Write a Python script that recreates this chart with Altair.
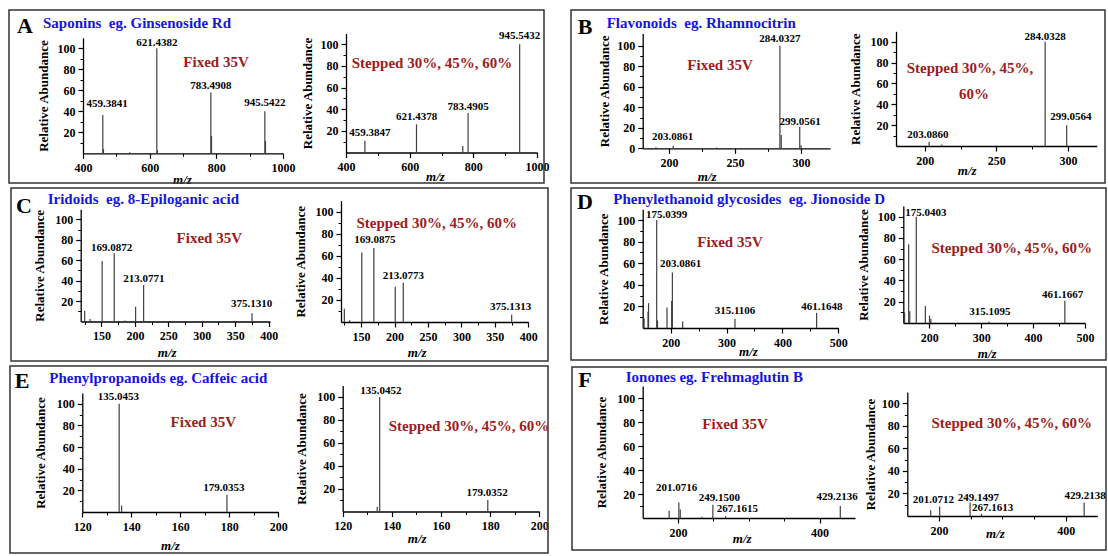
import altair as alt
import pandas as pd

W, H = 1108, 556
FONT = "Liberation Serif"
BLUE = "#1515e0"
RED = "#9c1c22"
PEAK = "#404040"

# ---------------- data (m/z, relative abundance) ----------------
# A  Saponins eg. Ginsenoside Rd
A_fixed_mz = [459.38, 461.4, 540.0, 621.44, 623.4, 783.49, 785.5, 945.54, 947.5]
A_fixed_int = [36.5, 4, 1, 100, 3, 58, 16.5, 40, 11.7]
A_fixed_lab = ["459.3841", "621.4382", "783.4908", "945.5422"]
A_fixed_lab_mz = [472, 621.4, 783.5, 945.5]
A_fixed_lab_int = [47, 105, 64, 48]

A_step_mz = [459.38, 621.44, 767.0, 783.49, 945.54]
A_step_int = [10.8, 26, 6, 36.4, 100]
A_step_lab = ["459.3847", "621.4378", "783.4905", "945.5432"]
A_step_lab_mz = [475, 622, 783.5, 945.5]
A_step_lab_int = [18, 32.8, 42, 107.5]

# B  Flavonoids eg. Rhamnocitrin
B_fixed_mz = [190.0, 203.09, 236.0, 284.03, 285.03, 299.06, 300.06]
B_fixed_int = [1, 2.5, 0.8, 100, 13, 21, 3]
B_fixed_lab = ["284.0327", "299.0561", "203.0861"]
B_fixed_lab_mz = [284.0, 299.4, 202.7]
B_fixed_lab_int = [106.5, 26, 11.3]

B_step_mz = [203.09, 212.0, 284.03, 299.06]
B_step_int = [4, 1.5, 100, 20]
B_step_lab = ["284.0328", "299.0564", "203.0860"]
B_step_lab_mz = [284.0, 301.9, 202.3]
B_step_lab_int = [104.8, 27.5, 10.5]

# C  Iridoids eg. 8-Epiloganic acid
C_fixed_mz = [125.0, 133.0, 151.07, 169.09, 185.0, 201.1, 213.08, 375.13]
C_fixed_int = [10.5, 2.5, 59.3, 66.8, 1, 14.5, 35.8, 8]
C_fixed_lab = ["169.0872", "213.0771", "375.1310"]
C_fixed_lab_mz = [165.3, 213.6, 374.6]
C_fixed_lab_int = [72.3, 41.3, 16.8]

C_step_mz = [125.0, 133.0, 151.07, 169.09, 201.1, 213.08, 375.13]
C_step_int = [12, 1.5, 63, 67, 32, 35.5, 6.5]
C_step_lab = ["169.0875", "213.0773", "375.1313"]
C_step_lab_mz = [170.8, 213.1, 373.7]
C_step_lab_int = [74.3, 42, 13.9]

# D  Phenylethanoid glycosides eg. Jionoside D
D_fixed_mz = [152.5, 159.5, 160.5, 175.04, 176.5, 193.5, 201.8, 203.09, 221.5, 315.11, 461.16]
D_fixed_int = [9, 15, 23, 100, 7, 19, 25, 51.5, 6, 8.5, 14]
D_fixed_lab = ["175.0399", "203.0861", "315.1106", "461.1648"]
D_fixed_lab_mz = [192.9, 218, 315.1, 470.8]
D_fixed_lab_int = [104.7, 59, 15.8, 19.7]

D_step_mz = [152.5, 160.3, 162.5, 175.04, 192.5, 200.5, 203.09, 315.11, 461.17]
D_step_int = [10, 74, 11, 100, 16, 7, 4, 1.5, 21]
D_step_lab = ["175.0403", "315.1095", "461.1667"]
D_step_lab_mz = [193.7, 317, 457.1]
D_step_lab_int = [103.2, 10, 26.4]

# E  Phenylpropanoids eg. Caffeic acid
E_fixed_mz = [135.05, 136.05, 179.04]
E_fixed_int = [100, 6, 16]
E_fixed_lab = ["135.0453", "179.0353"]
E_fixed_lab_mz = [134.7, 177.8]
E_fixed_lab_int = [106, 22.4]

E_step_mz = [134.04, 135.05, 179.04]
E_step_int = [4.2, 100, 10]
E_step_lab = ["135.0452", "179.0352"]
E_step_lab_mz = [135.5, 178.8]
E_step_lab_int = [105, 15.9]

# F  Ionones eg. Frehmaglutin B
F_fixed_mz = [187.4, 201.07, 203.08, 233.7, 249.15, 267.16, 429.21]
F_fixed_int = [6, 13, 7, 1, 11, 1.5, 10]
F_fixed_lab = ["201.0716", "249.1500", "267.1615", "429.2136"]
F_fixed_lab_mz = [198, 258.2, 283.7, 424.6]
F_fixed_lab_int = [25.3, 16.9, 7.5, 17.8]

F_step_mz = [186.9, 201.07, 249.15, 267.16, 429.21]
F_step_int = [5, 8.5, 12, 2, 12]
F_step_lab = ["201.0712", "249.1497", "267.1613", "429.2138"]
F_step_lab_mz = [191, 262.1, 284.8, 430.6]
F_step_lab_int = [14.2, 16.3, 6.8, 17.8]

# panel texts
panel_letters = ["A", "B", "C", "D", "E", "F"]
panel_titles = [
    "Saponins\u00a0 eg. Ginsenoside Rd",
    "Flavonoids\u00a0 eg. Rhamnocitrin",
    "Iridoids\u00a0 eg. 8-Epiloganic acid",
    "Phenylethanoid glycosides\u00a0 eg. Jionoside D",
    "Phenylpropanoids eg. Caffeic acid",
    "Ionones eg. Frehmaglutin B",
]
fixed_label = "Fixed 35V"
stepped_label = "Stepped 30%, 45%, 60%"

# ---------------- layout (pixels) ----------------
Y_MAJ = [20, 40, 60, 80, 100]
Y_MIN = [10, 30, 50, 70, 90]

subplots = [
    # data, xdom, xrange, ydom, yrange, xmajor, xminor, ymajor, ytitleX, xtitleX, xtitleY
    ((A_fixed_mz, A_fixed_int, A_fixed_lab, A_fixed_lab_mz, A_fixed_lab_int),
     [400, 1000], [83, 283], [0, 110], [153.3, 37.8], [400, 600, 800, 1000], [500, 700, 900], Y_MAJ, -40, 182, 25.7),
    ((A_step_mz, A_step_int, A_step_lab, A_step_lab_mz, A_step_lab_int),
     [400, 1000], [346, 537], [0, 110], [152.5, 33.4], [400, 600, 800, 1000], [500, 700, 900], Y_MAJ, -38.3, 435, 24.4),
    ((B_fixed_mz, B_fixed_int, B_fixed_lab, B_fixed_lab_mz, B_fixed_lab_int),
     [180, 322], [642.7, 830], [0, 112], [148.3, 33.4], [200, 250, 300], [225, 275], [0] + Y_MAJ, -38.4, 706.7, 28.4),
    ((B_step_mz, B_step_int, B_step_lab, B_step_lab_mz, B_step_lab_int),
     [180, 320], [896, 1096.7], [0, 110], [146, 31.3], [200, 250, 300], [225, 275], Y_MAJ, -41, 966.7, 24.3),
    ((C_fixed_mz, C_fixed_int, C_fixed_lab, C_fixed_lab_mz, C_fixed_lab_int),
     [119, 402], [80.7, 270], [0, 110], [321.5, 209.2], [150, 200, 250, 300, 350, 400],
     [125, 175, 225, 275, 325, 375], Y_MAJ, -41.4, 166.7, 30.7),
    ((C_step_mz, C_step_int, C_step_lab, C_step_lab_mz, C_step_lab_int),
     [120, 400], [341, 528.3], [0, 110], [322, 200.6], [150, 200, 250, 300, 350, 400],
     [125, 175, 225, 275, 325, 375], Y_MAJ, -40.3, 416.7, 30),
    ((D_fixed_mz, D_fixed_int, D_fixed_lab, D_fixed_lab_mz, D_fixed_lab_int),
     [150, 500], [642.7, 838.3], [0, 110], [328, 209.3], [200, 300, 400, 500], [250, 350, 450], Y_MAJ, -39.4, 748, 23.4),
    ((D_step_mz, D_step_int, D_step_lab, D_step_lab_mz, D_step_lab_int),
     [150, 500], [903.3, 1085], [0, 110], [323, 206], [200, 300, 400, 500], [250, 350, 450], Y_MAJ, -40, 986.7, 30.4),
    ((E_fixed_mz, E_fixed_int, E_fixed_lab, E_fixed_lab_mz, E_fixed_lab_int),
     [120, 200], [82.3, 278.3], [0, 110], [512, 393], [120, 140, 160, 180, 200], [130, 150, 170, 190], Y_MAJ, -42.3, 170, 33.3),
    ((E_step_mz, E_step_int, E_step_lab, E_step_lab_mz, E_step_lab_int),
     [120, 200], [342.7, 539.3], [0, 110], [511.5, 385.5], [120, 140, 160, 180, 200], [130, 150, 170, 190], Y_MAJ, -41, 416.7, 27.3),
    ((F_fixed_mz, F_fixed_int, F_fixed_lab, F_fixed_lab_mz, F_fixed_lab_int),
     [150, 450], [642.7, 855], [0, 110], [518, 386], [200, 400], [250, 300, 350], Y_MAJ, -41, 741.7, 20.6),
    ((F_step_mz, F_step_int, F_step_lab, F_step_lab_mz, F_step_lab_int),
     [150, 450], [907.3, 1097.3], [0, 110], [516, 392], [200, 400], [250, 300, 350], Y_MAJ, -37.3, 995, 17.6),
]

panel_boxes = pd.DataFrame({
    "x0": [9, 571, 11, 571, 10, 572],
    "x1": [544, 1105, 548, 1106, 548, 1106],
    "y0": [10, 10, 188, 188, 366, 367],
    "y1": [183, 183, 361, 360, 553, 550],
})

# centered annotations: letters + condition labels
center_txt = pd.DataFrame({
    "text": panel_letters + [fixed_label, stepped_label, fixed_label, "Stepped 30%, 45%,", "60%",
                             fixed_label, stepped_label, fixed_label, stepped_label,
                             fixed_label, stepped_label, fixed_label, stepped_label],
    "px": [25, 585, 24, 585, 22, 585,
           216, 432, 720, 970, 974, 209.3, 436.7, 730, 1011.7, 203.3, 469, 735, 1011.7],
    "py": [26, 27, 205.7, 202.3, 381, 380,
           62, 63, 65, 68.3, 94, 238.3, 223.3, 241.7, 247.7, 421.7, 426, 424.3, 423.3],
    "color": ["black"] * 6 + [RED] * 13,
    "size": [22] * 6 + [15] * 13,
})
title_txt = pd.DataFrame({
    "text": panel_titles,
    "px": [43, 606.7, 47.7, 613.3, 49.3, 625.7],
    "py": [23, 23.3, 199, 199, 378.3, 376.7],
})


def axis_common():
    return dict(grid=False, labelFont=FONT, labelFontWeight="bold", labelFontSize=12,
                labelColor="black", titleFont=FONT, titleFontWeight="bold", titleFontSize=13,
                titleColor="black", domainColor="black", tickColor="black",
                labelFlush=False, labelOverlap=False)


def make_subplot(spec):
    (mz, inten, lab, lab_mz, lab_int), xdom, xrng, ydom, yrng, xmaj, xmin, ymaj, ytX, xtX, xtY = spec
    peaks = pd.DataFrame({"mz": mz, "inten": inten, "zero": [0] * len(mz)})
    labs = pd.DataFrame({"mz": lab_mz, "inten": lab_int, "text": lab})
    xs = alt.Scale(domain=xdom, range=xrng, nice=False, zero=False)
    ys = alt.Scale(domain=ydom, range=yrng, nice=False, zero=False)
    xoff = yrng[0] - H
    yoff = -xrng[0]
    c = axis_common()
    x_major = alt.Axis(orient="bottom", offset=xoff, values=xmaj, format="d", title="m/z",
                       titleFontStyle="italic", titleBaseline="middle", titleAlign="center",
                       titleX=xtX, titleY=xtY,
                       tickSize=5, labelPadding=4, domainWidth=1.3, tickWidth=1.2, **c)
    y_major = alt.Axis(orient="left", offset=yoff, values=ymaj, format="d",
                       title="Relative Abundance", titleBaseline="middle", titleX=ytX,
                       tickSize=5, labelPadding=3, domainWidth=1.3, tickWidth=1.2, **c)
    x_minor = alt.Axis(orient="bottom", offset=xoff, values=xmin, labels=False, domain=False,
                       title=None, tickSize=3, tickWidth=1, grid=False, tickColor="black")
    y_minor = alt.Axis(orient="left", offset=yoff, values=Y_MIN, labels=False, domain=False,
                       title=None, tickSize=3, tickWidth=1, grid=False, tickColor="black")
    rules = alt.Chart(peaks).mark_rule(color=PEAK, strokeWidth=1.2).encode(
        x=alt.X("mz:Q", scale=xs, axis=x_major),
        y=alt.Y("inten:Q", scale=ys, axis=y_major),
        y2="zero:Q",
    )
    texts = alt.Chart(labs).mark_text(font=FONT, fontWeight="bold", fontSize=11,
                                      color="black", baseline="middle").encode(
        x=alt.X("mz:Q", scale=xs, axis=x_minor),
        y=alt.Y("inten:Q", scale=ys, axis=y_minor),
        text="text:N",
    )
    return alt.layer(rules, texts).resolve_axis(x="independent", y="independent")


boxes = alt.Chart(panel_boxes).mark_rect(fillOpacity=0, stroke="#333333", strokeWidth=1.5).encode(
    x=alt.X("x0:Q", scale=None, axis=None), x2="x1:Q",
    y=alt.Y("y0:Q", scale=None, axis=None), y2="y1:Q",
)
center_layer = alt.Chart(center_txt).mark_text(font=FONT, fontWeight="bold", baseline="middle",
                                               align="center").encode(
    x=alt.X("px:Q", scale=None, axis=None),
    y=alt.Y("py:Q", scale=None, axis=None),
    text="text:N",
    color=alt.Color("color:N", scale=None),
    size=alt.Size("size:Q", scale=None),
)
title_layer = alt.Chart(title_txt).mark_text(font=FONT, fontWeight="bold", baseline="middle",
                                             align="left", fontSize=15, color=BLUE).encode(
    x=alt.X("px:Q", scale=None, axis=None),
    y=alt.Y("py:Q", scale=None, axis=None),
    text="text:N",
)

layers = [boxes] + [make_subplot(s) for s in subplots] + [center_layer, title_layer]

chart = alt.layer(*layers).resolve_scale(x="independent", y="independent").properties(
    width=W, height=H, autosize=alt.AutoSizeParams(type="none"), padding=0, background="white"
).configure_view(strokeWidth=0)

chart.save("out.html", embed_options={"renderer": "svg", "actions": False})
